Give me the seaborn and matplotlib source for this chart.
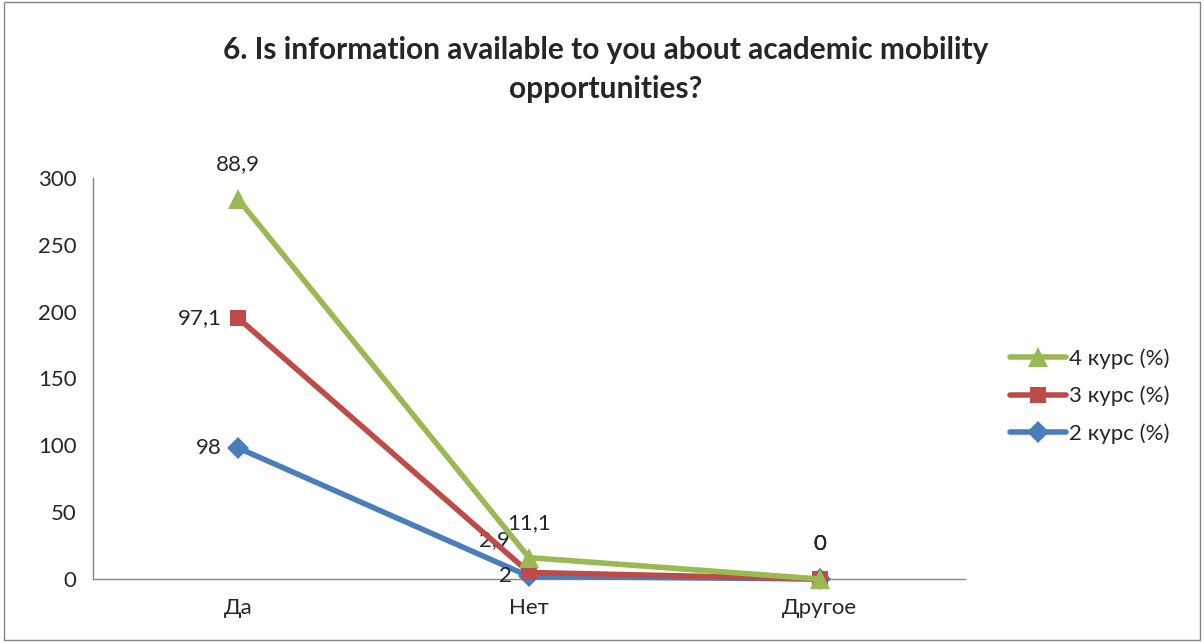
import numpy as np
import pandas as pd
import matplotlib.pyplot as plt
import seaborn as sns
from matplotlib.lines import Line2D

categories = ["Да", "Нет", "Другое"]
kurs2 = [98, 2, 0]
kurs3 = [97.1, 2.9, 0]
kurs4 = [88.9, 11.1, 0]
series_names = ["2 курс (%)", "3 курс (%)", "4 курс (%)"]
labels2 = ["98", "2", "0"]
labels3 = ["97,1", "2,9", "0"]
labels4 = ["88,9", "11,1", "0"]

sns.set_style("white")
plt.rcParams['font.family'] = ['Lato', 'DejaVu Sans']

# stacked line chart: each series sits on top of the previous one
raw = np.array([kurs2, kurs3, kurs4])
stacked = raw.cumsum(axis=0)

colors = {"2 курс (%)": "#4a7ebb", "3 курс (%)": "#be4b48", "4 курс (%)": "#98b954"}
markers = {"2 курс (%)": "D", "3 курс (%)": "s", "4 курс (%)": "^"}
msizes = {"2 курс (%)": 11, "3 курс (%)": 12, "4 курс (%)": 15}

fig = plt.figure(figsize=(12.04, 6.42), dpi=100)
ax = fig.add_axes([93 / 1204, 1 - 579 / 642, (965 - 93) / 1204, (579 - 178) / 642])

for k, (name, vals) in enumerate(zip(series_names, stacked)):
    d = pd.DataFrame({"cat": [0, 1, 2], "value": vals})
    sns.lineplot(data=d, x="cat", y="value", color=colors[name], marker=markers[name],
                 linewidth=4, markersize=msizes[name], markeredgewidth=0, ax=ax,
                 zorder=3 + k, clip_on=False)

ax.set_xlim(-0.5, 2.5)
ax.set_ylim(0, 300)
ax.set_yticks(range(0, 301, 50))
ax.set_xticks([0, 1, 2])
ax.set_xticklabels(categories)
ax.set_xticks([-0.5, 0.5, 1.5, 2.5], minor=True)
ax.tick_params(axis="x", which="major", length=0, pad=14, labelsize=16)
ax.tick_params(axis="x", which="minor", length=6, color="#868686", direction="out")
ax.tick_params(axis="y", length=6, color="#868686", direction="out", labelsize=16, pad=6)
ax.set_xlabel("")
ax.set_ylabel("")
for side in ["top", "right"]:
    ax.spines[side].set_visible(False)
for side in ["left", "bottom"]:
    ax.spines[side].set_color("#868686")
    ax.spines[side].set_linewidth(1)

# data labels
fs = 16
ax.annotate(labels4[0], (0, stacked[2][0]), xytext=(0, 18), textcoords="offset points", ha="center", va="bottom", fontsize=fs)
ax.annotate(labels3[0], (0, stacked[1][0]), xytext=(-12, 0), textcoords="offset points", ha="right", va="center", fontsize=fs)
ax.annotate(labels2[0], (0, stacked[0][0]), xytext=(-12, 0), textcoords="offset points", ha="right", va="center", fontsize=fs)
ax.annotate(labels4[1], (1, stacked[2][1]), xytext=(0, 18), textcoords="offset points", ha="center", va="bottom", fontsize=fs)
ax.annotate(labels3[1], (1, stacked[1][1]), xytext=(-14, 16), textcoords="offset points", ha="right", va="bottom", fontsize=fs)
ax.annotate(labels2[1], (1, stacked[0][1]), xytext=(-12, 0), textcoords="offset points", ha="right", va="center", fontsize=fs)
for lab in [labels2[2], labels3[2], labels4[2]]:
    ax.annotate(lab, (2, 0), xytext=(0, 18), textcoords="offset points", ha="center", va="bottom", fontsize=fs)

# legend, reversed order like the original
handles = [Line2D([], [], color=colors[n], marker=markers[n], linewidth=4,
                  markersize=msizes[n], markeredgewidth=0) for n in series_names[::-1]]
fig.legend(handles, series_names[::-1], loc="center left", bbox_to_anchor=(990 / 1204, 1 - 396 / 642),
           frameon=False, fontsize=16, handlelength=2.5, handletextpad=0.15, labelspacing=0.75)

fig.text(0.503, 1 - 50 / 642, "6. Is information available to you about academic mobility",
         ha="center", va="center", fontsize=21.5, fontweight="bold")
fig.text(0.503, 1 - 89 / 642, "opportunities?", ha="center", va="center", fontsize=21.5, fontweight="bold")

# outer chart border
fig.patches.append(plt.Rectangle((0.003, 0.003), 0.994, 0.994, transform=fig.transFigure,
                                 fill=False, edgecolor="#868686", linewidth=1))

fig.savefig("out.png", dpi=100)
